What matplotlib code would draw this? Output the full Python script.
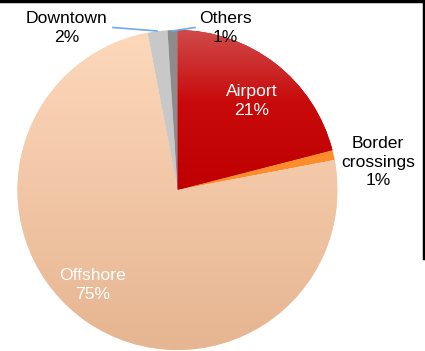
import numpy as np
import matplotlib
matplotlib.use("Agg")
import matplotlib.pyplot as plt
from matplotlib.colors import LinearSegmentedColormap

plt.rcParams['font.family'] = ['Liberation Sans', 'DejaVu Sans']

categories = ["Airport", "Border\ncrossings", "Offshore", "Downtown", "Others"]
shares = [21, 1, 75, 2, 1]
flat_colors = ["#c80000", "#ff8c2a", "#f7cba6", "#c8c8c8", "#8c8c8c"]
# colour stops (position from bottom, colour) for the shaded wedges
gradients = {
    0: [(0.0, "#c00000"), (0.55, "#c80a0a"), (1.0, "#d04a4a")],
    2: [(0.0, "#e6b591"), (1.0, "#fdd8bb")],
}
label_colors = ["white", "black", "white", "black", "black"]

W, H = 425, 351
fig = plt.figure(figsize=(W / 100, H / 100), dpi=100)
ax = fig.add_axes([0, 0, 1, 1])

cx, cy, r = 177.5, H - 190, 160
wedges, _ = ax.pie(shares, colors=flat_colors, startangle=90, counterclock=False,
                   center=(cx, cy), radius=r, frame=True,
                   wedgeprops=dict(linewidth=0))
ax.set_xlim(0, W)
ax.set_ylim(0, H)
ax.set_aspect('equal')
ax.axis('off')

# vertical gradient fills, each spanning its own wedge's height
for idx, stops in gradients.items():
    cmap = LinearSegmentedColormap.from_list(f"g{idx}", stops)
    grad = np.linspace(0, 1, 256).reshape(-1, 1)
    verts = wedges[idx].get_path().vertices
    y0, y1 = verts[:, 1].min(), verts[:, 1].max()
    im = ax.imshow(grad, cmap=cmap, origin='lower', aspect='auto',
                   extent=(cx - r, cx + r, y0, y1), zorder=wedges[idx].get_zorder() + 0.1)
    im.set_clip_path(wedges[idx])
ax.set_xlim(0, W)
ax.set_ylim(0, H)

label_pos = [(252, 101), (378, 162), (93, 285), (67, 28), (225, 28)]
for i, (name, val) in enumerate(zip(categories, shares)):
    x, y = label_pos[i]
    ax.text(x, H - y, f"{name}\n{val}%", ha='center', va='center', fontsize=12.6,
            color=label_colors[i], linespacing=1.3, zorder=5)

# leader lines for the narrow slices
ax.plot([113, 157], [H - 27.5, H - 31], color="#6eaaf0", lw=1.2, zorder=4)
ax.plot([172, 195], [H - 31, H - 27.5], color="#6eaaf0", lw=1.2, zorder=4)

# frame lines along top and right
ax.plot([0, W], [H - 1, H - 1], color="black", lw=2.5, zorder=6, clip_on=False)
ax.plot([W - 1, W - 1], [H, H - 258], color="black", lw=2.5, zorder=6, clip_on=False)

fig.savefig("out.png", dpi=100)
